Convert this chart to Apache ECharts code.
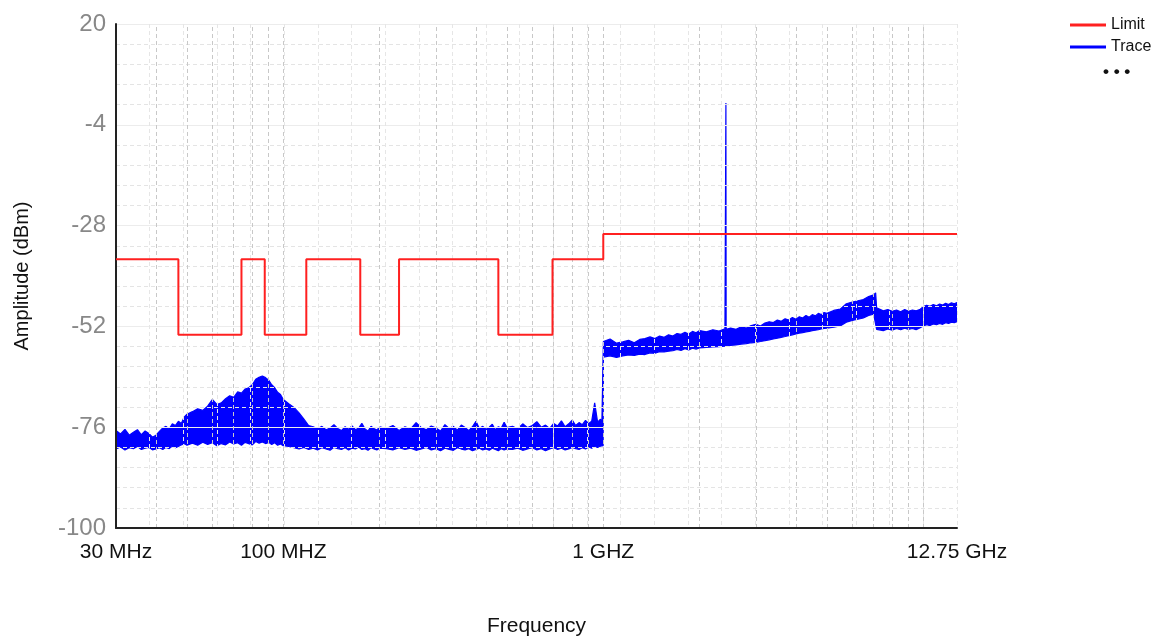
<!DOCTYPE html>
<html><head><meta charset="utf-8">
<script src="https://cdn.jsdelivr.net/npm/echarts@6/dist/echarts.min.js"></script>
<style>html,body{margin:0;padding:0;background:#fff}#c{width:1175px;height:642px}</style>
</head><body><div id="c"></div>
<script>
// ---- axis ticks ----
const X_TICK_MHZ = [30, 100, 1000, 12750];
const X_TICK_LABELS = ['30 MHz', '100 MHZ', '1 GHZ', '12.75 GHz'];
const Y_MIN = -100, Y_MAX = 20, Y_STEP = 24;
const GRID_LOG_MHZ = [40, 50, 60, 70, 80, 90, 100, 200, 300, 400, 500, 600, 700, 800, 900, 1000,
  2000, 3000, 4000, 5000, 6000, 7000, 8000, 9000, 10000];

// ---- limit line (MHz, dBm) ----
const LIMIT_MHZ = [30, 47, 47, 74, 74, 87.5, 87.5, 118, 118, 174, 174, 230, 230, 470, 470, 694, 694, 1000, 1000, 12750];
const LIMIT_DBM = [-36, -36, -54, -54, -36, -36, -54, -54, -36, -36, -54, -54, -36, -36, -54, -54, -36, -36, -30, -30];

// ---- measured trace envelope (MHz, top dBm, bottom dBm) ----
const TRACE_MHZ = [
  30, 31, 32, 33, 34, 35, 36, 37, 38, 39, 40, 41, 42, 43, 44, 45, 46, 47, 48, 49, 50,
  52, 54, 56, 58, 60, 62, 64, 66, 68, 70, 72, 74, 76, 78, 80, 82, 84, 86, 88, 90, 92, 94, 96, 98, 100,
  104, 108, 112, 116, 120, 124, 128, 132, 136, 140, 144, 148, 152, 156, 160, 164, 168, 172, 176, 180, 184, 188, 192, 196, 200,
  210, 220, 230, 240, 250, 260, 270, 280, 290, 300, 310, 320, 330, 340, 350, 360, 370, 380, 390, 400, 410, 420, 430, 440, 450, 460, 470, 480, 490, 500,
  520, 540, 560, 580, 600, 620, 640, 660, 680, 700, 720, 740, 760, 780, 800, 820, 840, 860, 880, 900, 920, 940, 960, 980, 990, 999,
  1001, 1050, 1100, 1150, 1200, 1250, 1300, 1350, 1400, 1450, 1500, 1550, 1600, 1650, 1700, 1750, 1800, 1850, 1900, 1950, 2000,
  2100, 2200, 2300, 2400, 2413, 2417, 2421, 2500, 2600, 2700, 2800, 2900, 3000, 3100, 3200, 3300, 3400, 3500, 3600, 3700, 3800, 3900, 4000, 4100, 4200, 4300, 4400, 4500, 4600, 4700, 4800, 4900, 5000,
  5250, 5500, 5750, 6000, 6250, 6500, 6750, 7000, 7100, 7150, 7250, 7500, 7750, 8000, 8250, 8500, 8750, 9000, 9250, 9500, 9750, 10000, 10250, 10500, 10750, 11000, 11250, 11500, 11750, 12000, 12250, 12500, 12750
];
const TRACE_TOP = [
  -76.8, -77.6, -76.5, -77.9, -77.2, -76.6, -77.8, -76.9, -77.5, -78.4, -77.9, -77.0, -76.2, -75.8, -76.4, -75.2, -75.6, -74.6, -75.1, -73.6, -72.9,
  -72.3, -71.6, -72.0, -71.0, -69.4, -70.6, -70.2, -69.2, -68.5, -68.9, -67.6, -67.9, -66.9, -66.6, -65.9, -64.6, -64.1, -63.8, -64.2, -64.8, -65.9, -66.6, -67.7, -68.2, -69.4,
  -70.4, -71.3, -72.6, -74.1, -75.6, -75.9, -76.4, -75.8, -76.6, -76.2, -75.4, -76.3, -76.8, -75.9, -76.5, -75.7, -76.6, -76.2, -75.1, -76.4, -76.9, -75.8, -76.3, -76.7, -75.9,
  -76.3, -75.6, -76.8, -75.9, -76.4, -74.9, -76.1, -76.6, -75.7, -76.2, -76.9, -75.4, -76.3, -75.8, -76.7, -75.5, -76.1, -76.8, -75.9, -74.6, -76.3, -75.8, -76.5, -76.0, -75.3, -76.6, -75.9, -76.2, -74.8, -76.1,
  -75.8, -76.4, -75.2, -76.1, -75.6, -74.7, -76.0, -75.5, -76.3, -75.1, -75.7, -74.5, -75.9, -75.2, -74.3, -75.6, -74.9, -75.4, -74.4, -75.1, -74.6, -70.2, -74.8, -74.1, -74.9, -75.3,
  -55.6, -55.0, -56.0, -55.7, -55.3, -55.9, -55.1, -54.9, -54.5, -54.9, -54.3, -54.6, -54.0, -54.3, -53.7, -53.9, -53.4, -53.8, -53.2, -53.5, -53.0,
  -53.3, -52.8, -53.1, -52.6, -52.9, 1.2, -52.7, -52.4, -52.7, -52.1, -52.4, -51.8, -51.5, -51.9, -51.2, -50.9, -51.1, -50.5, -50.8, -50.2, -50.5, -49.9, -50.3, -49.7, -50.0, -49.4, -49.8, -49.2, -49.5, -48.9, -49.2, -48.7, -48.9,
  -48.2, -47.9, -46.6, -46.2, -45.9, -45.6, -44.9, -44.5, -44.0, -47.6, -47.9, -48.3, -48.0, -48.4, -48.1, -48.5, -48.0, -48.4, -48.1, -48.3, -48.0, -47.3, -47.0, -47.2, -46.8, -47.1, -46.7, -46.9, -46.5, -46.8, -46.4, -46.6, -46.3
];
const TRACE_BOTTOM = [
  -81.2, -80.7, -81.4, -80.9, -81.1, -80.6, -81.3, -81.0, -80.8, -81.4, -81.2, -80.9, -81.3, -80.8, -81.1, -80.5, -80.9, -80.6, -80.2, -79.9, -80.3,
  -79.8, -80.3, -79.6, -80.1, -79.7, -80.4, -79.9, -80.2, -79.5, -80.0, -79.7, -80.3, -79.6, -79.9, -80.2, -79.4, -79.8, -79.5, -79.9, -79.6, -80.1, -79.7, -80.3, -80.0, -80.4,
  -80.6, -80.9, -81.2, -80.8, -81.3, -81.0, -81.4, -80.9, -81.2, -81.5, -80.8, -81.1, -81.3, -80.9, -81.4, -81.0, -81.2, -80.7, -81.3, -81.1, -81.5, -80.9, -81.2, -81.4, -81.0,
  -81.1, -81.4, -80.9, -81.3, -81.0, -81.5, -81.2, -80.8, -81.4, -81.1, -81.6, -81.0, -81.3, -81.5, -80.9, -81.2, -81.4, -81.1, -81.6, -81.3, -81.0, -81.4, -81.2, -81.5, -81.0, -81.3, -81.6, -81.1, -81.4, -81.2,
  -81.3, -81.0, -81.5, -81.2, -80.9, -81.4, -81.1, -81.6, -81.2, -80.9, -81.3, -81.0, -81.4, -81.2, -80.8, -81.1, -81.3, -80.9, -81.2, -80.7, -81.0, -80.6, -80.8, -80.5, -80.7, -80.4,
  -59.3, -59.0, -59.4, -59.0, -58.8, -58.9, -58.6, -58.7, -58.3, -58.4, -58.0, -58.1, -57.9, -57.8, -57.5, -57.7, -57.3, -57.6, -57.2, -57.4, -57.1,
  -57.0, -56.9, -56.8, -56.7, -56.8, -56.6, -56.7, -56.5, -56.4, -56.2, -56.1, -55.9, -55.8, -55.6, -55.4, -55.2, -55.0, -54.8, -54.6, -54.4, -54.2, -54.0, -53.8, -53.6, -53.5, -53.3, -53.2, -53.0, -52.9, -52.8, -52.6, -52.5, -52.4,
  -52.2, -51.9, -51.0, -50.6, -50.3, -50.0, -49.4, -49.1, -48.9, -52.7, -52.8, -53.0, -52.6, -52.9, -52.5, -52.8, -52.4, -52.7, -52.5, -52.8, -52.4, -51.9, -51.6, -51.8, -51.4, -51.6, -51.3, -51.5, -51.1, -51.3, -51.0, -51.1, -50.9
];

const MHZ = 1e6;
const n = Math.min(TRACE_MHZ.length, TRACE_TOP.length, TRACE_BOTTOM.length);
const topData = [], bottomData = [];
for (let i = 0; i < n; i++) {
  topData.push([TRACE_MHZ[i] * MHZ, TRACE_TOP[i]]);
  bottomData.push([TRACE_MHZ[i] * MHZ, TRACE_BOTTOM[i]]);
}
const limitData = LIMIT_MHZ.map((f, i) => [f * MHZ, LIMIT_DBM[i]]);
const xTickValues = X_TICK_MHZ.map(f => f * MHZ);

const chart = echarts.init(document.getElementById('c'), null, { renderer: 'canvas' });
chart.setOption({
  animation: false,
  backgroundColor: '#fff',
  textStyle: { fontFamily: 'Arial, Liberation Sans, sans-serif' },
  grid: { left: 116, right: 218, top: 24, bottom: 111, containLabel: false },
  legend: {
    orient: 'vertical', left: 1070, top: 17, padding: 0, itemGap: 6,
    icon: 'rect', itemWidth: 36, itemHeight: 3,
    textStyle: { fontSize: 16, color: '#111', fontFamily: 'Arial, Liberation Sans, sans-serif' },
    data: ['Limit', 'Trace']
  },
  graphic: [{
    type: 'text', left: 1103, top: 64,
    style: { text: '• • •', fontSize: 17, fontWeight: 'bold', fill: '#111', fontFamily: 'Arial' }
  }],
  xAxis: [{
    type: 'log', logBase: 10, z: 5,
    min: xTickValues[0], max: xTickValues[xTickValues.length - 1],
    name: 'Frequency', nameLocation: 'middle', nameGap: 88,
    nameTextStyle: { fontSize: 21, color: '#111' },
    axisLine: { show: true, onZero: false, lineStyle: { color: '#222', width: 2 } },
    axisTick: { show: false },
    splitLine: { show: false },
    axisLabel: {
      customValues: xTickValues,
      fontSize: 21, color: '#111', margin: 14,
      formatter: function (v) {
        for (let i = 0; i < xTickValues.length; i++) {
          if (Math.abs(Math.log10(v) - Math.log10(xTickValues[i])) < 1e-4) return X_TICK_LABELS[i];
        }
        return '';
      }
    }
  }, {
    type: 'value', min: 0, max: 25, interval: 1, position: 'top', z: 4,
    axisLine: { show: false, onZero: false }, axisTick: { show: false }, axisLabel: { show: false },
    splitLine: { show: true, lineStyle: { color: '#e6e6e6', type: [4, 3], width: 1 } }
  }],
  yAxis: {
    type: 'value', min: Y_MIN, max: Y_MAX, interval: Y_STEP, z: 4,
    name: 'Amplitude (dBm)', nameLocation: 'middle', nameGap: 84,
    nameTextStyle: { fontSize: 20, color: '#111' },
    axisLine: { show: true, onZero: false, lineStyle: { color: '#222', width: 2 } },
    axisTick: { show: false },
    axisLabel: { fontSize: 24, color: '#888', margin: 10, padding: [5, 0, 0, 0] },
    splitLine: { show: true, lineStyle: { color: '#ececec', width: 1 } },
    minorTick: { show: false, splitNumber: 5 },
    minorSplitLine: { show: true, lineStyle: { color: '#e4e4e4', type: [4, 3], width: 1 } }
  },
  series: [{
    name: 'Trace', type: 'line', xAxisIndex: 0, data: topData, symbol: 'none', z: 2,
    color: '#0000ff', lineStyle: { color: '#0000ff', width: 1.2 },
    areaStyle: { color: '#0000ff', opacity: 1, origin: 'start' }
  }, {
    name: 'Trace', type: 'line', xAxisIndex: 0, data: bottomData, symbol: 'none', z: 2,
    color: '#0000ff', lineStyle: { color: '#0000ff', width: 1.2 },
    areaStyle: { color: '#ffffff', opacity: 1, origin: 'start' }
  }, {
    name: 'grid', type: 'line', xAxisIndex: 0, data: [], z: 4, silent: true,
    markLine: {
      silent: true, symbol: ['none', 'none'], label: { show: false }, animation: false,
      lineStyle: { color: '#c8c8c8', type: [4, 3], width: 1 },
      data: GRID_LOG_MHZ.map(f => ({ xAxis: f * MHZ }))
    }
  }, {
    name: 'Limit', type: 'line', xAxisIndex: 0, data: limitData, symbol: 'none', z: 6,
    color: '#ff2020', lineStyle: { color: '#ff2020', width: 2 }
  }]
});
</script></body></html>
